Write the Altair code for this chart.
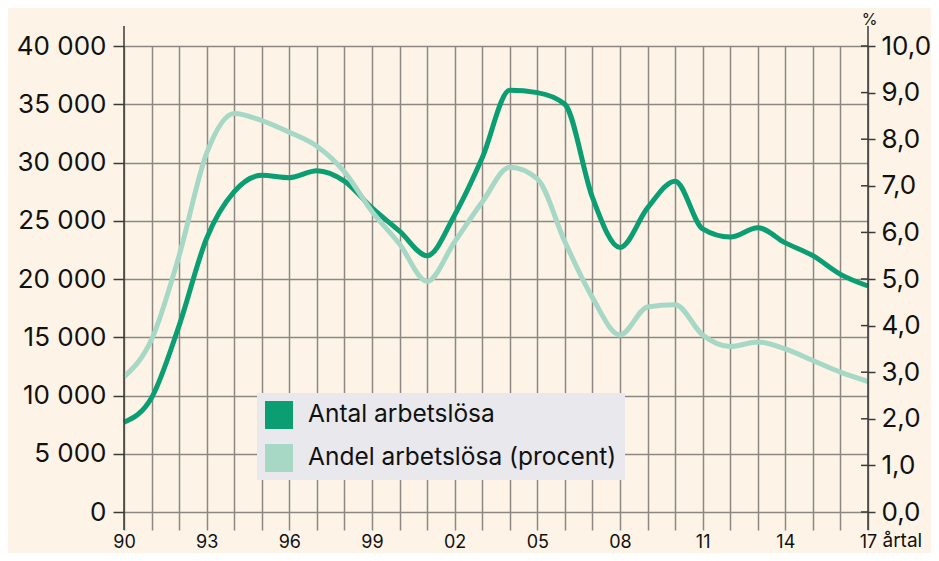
import altair as alt
import pandas as pd

years = list(range(1990, 2018))
antal = [7700, 9800, 16000, 23500, 27500, 28900, 28700, 29300, 28400, 26100,
         24100, 22000, 25500, 30400, 36200, 36000, 35000, 27000, 22700, 26100,
         28400, 24300, 23600, 24400, 23100, 22000, 20400, 19400]
andel = [2.9, 3.7, 5.5, 7.7, 8.55, 8.4, 8.15, 7.85, 7.3, 6.45,
         5.75, 4.95, 5.8, 6.65, 7.4, 7.15, 5.8, 4.6, 3.8, 4.4,
         4.45, 3.8, 3.55, 3.65, 3.5, 3.25, 3.0, 2.8]
left_ticks = [0, 5000, 10000, 15000, 20000, 25000, 30000, 35000, 40000]
right_ticks = [0, 1, 2, 3, 4, 5, 6, 7, 8, 9, 10]
edges = [1990, 2017]
series_names = ["Antal arbetslösa", "Andel arbetslösa (procent)"]
colors = ["#0b9e73", "#a7d8c6"]

df = pd.DataFrame({"year": years, "antal": antal, "andel": andel})
edge_df = pd.DataFrame({"year": edges})
legend_df = pd.DataFrame({"series": series_names, "year": [1990, 1990]})

FONT = "Inter"
GRID = "#8c8782"
AXIS = "#3a3a3a"
TEXT = "#111111"
W, H = 744, 466

x = alt.X(
    "year:Q",
    scale=alt.Scale(domain=[1990, 2017], nice=False, zero=False),
    axis=alt.Axis(
        values=years, grid=True, gridColor=GRID, gridWidth=1.5,
        tickSize=18, tickColor=GRID, tickWidth=1.5, domain=False,
        labelExpr="(datum.value - 1990) % 3 == 0 ? slice(toString(datum.value), 2) : ''",
        labelFontSize=18, labelPadding=3, labelFlush=False, labelOverlap=False,
        title="årtal", titleX=758, titleY=34, titleAlign="left",
        titleBaseline="alphabetic", titleFontSize=19, titleFontWeight="normal",
    ),
)

legend = alt.Legend(
    title=None, orient="none", legendX=133, legendY=347,
    fillColor="#e8e8ed", padding=8, symbolType="square", symbolSize=784,
    symbolStrokeWidth=0, symbolOpacity=1, labelFontSize=24.5, labelOffset=15,
    rowPadding=15, labelFont=FONT, labelColor=TEXT, labelLimit=400,
)

axis_lines = alt.Chart(edge_df).mark_rule(
    color=AXIS, strokeWidth=1.5
).encode(x=x, y=alt.value(-20), y2=alt.value(H + 18))

inner_ticks = alt.Chart(pd.DataFrame({"t": right_ticks})).mark_rule(
    color=AXIS, strokeWidth=1.5
).encode(
    y=alt.Y("t:Q", scale=alt.Scale(domain=[0, 10], nice=False), axis=None),
    x=alt.value(W - 7), x2=alt.value(W),
)

legend_layer = alt.Chart(legend_df).mark_square(opacity=0, size=1).encode(
    x=x,
    y=alt.value(0),
    color=alt.Color(
        "series:N", scale=alt.Scale(domain=series_names, range=colors),
        legend=legend, sort=series_names,
    ),
)

dark = alt.Chart(df).mark_line(
    strokeWidth=5, interpolate="monotone", color=colors[0]
).encode(
    x=x,
    y=alt.Y(
        "antal:Q",
        scale=alt.Scale(domain=[0, 40000], nice=False),
        axis=alt.Axis(
            orient="left", values=left_ticks, grid=True, gridColor=GRID,
            gridWidth=1.5, tickSize=11, tickColor=AXIS, tickWidth=1.5,
            domain=False,
            labelExpr="replace(format(datum.value, ','), ',', ' ')",
            labelFontSize=26, labelPadding=7, title=None,
        ),
    ),
)

light = alt.Chart(df).mark_line(
    strokeWidth=5, interpolate="monotone", color=colors[1]
).encode(
    x=x,
    y=alt.Y(
        "andel:Q",
        scale=alt.Scale(domain=[0, 10], nice=False),
        axis=alt.Axis(
            orient="right", values=right_ticks, grid=False, tickSize=7,
            tickColor=AXIS, tickWidth=1.5, domain=False,
            labelExpr="replace(format(datum.value, '.1f'), '.', ',')",
            labelFontSize=26, labelPadding=6,
            title="%", titleAngle=0, titleX=1, titleY=-22, titleAlign="center",
            titleBaseline="alphabetic", titleFontSize=16, titleFontWeight="normal",
        ),
    ),
)

chart = (
    alt.layer(dark, light, axis_lines, inner_ticks, legend_layer)
    .resolve_scale(y="independent")
    .properties(
        width=W, height=H,
        autosize=alt.AutoSizeParams(type="none"),
        padding={"left": 116, "top": 38, "right": 63, "bottom": 41},
    )
    .configure(background="#fdf4e7", font=FONT)
    .configure_view(stroke=None)
    .configure_axis(labelFont=FONT, titleFont=FONT, labelColor=TEXT, titleColor=TEXT)
)

chart.save("out.html", embed_options={"renderer": "svg", "actions": False})
